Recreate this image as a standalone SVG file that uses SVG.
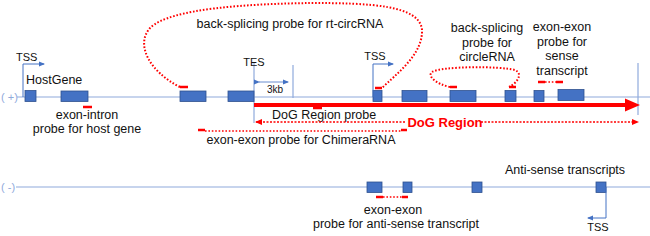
<svg xmlns="http://www.w3.org/2000/svg" width="650" height="236" viewBox="0 0 650 236">
<defs>
<style>
text{font-family:"Liberation Sans",Arial,sans-serif;font-size:12.5px;fill:#111}
.c{text-anchor:middle}
.strand{fill:#8FAADC;font-size:11px}
.axis{stroke:#8FAADC;stroke-width:1.2;fill:none}
.exon{fill:#4472C4;stroke:#2F528F;stroke-width:0.8}
.tss{stroke:#4472C4;stroke-width:1;fill:none}
.probe{stroke:#FF0000;stroke-width:2.5;fill:none}
.dot{stroke:#FF0000;stroke-width:2;fill:none;stroke-dasharray:1.6,1.8}
.dash{stroke:#FF0000;stroke-width:1.3;fill:none;stroke-dasharray:2,1.5}
.red{fill:#FF0000;font-weight:bold;font-size:13px}
</style>
<marker id="ab" markerWidth="6" markerHeight="6" refX="5" refY="3" orient="auto" markerUnits="userSpaceOnUse"><path d="M0,0.5 L6,3 L0,5.5 Z" fill="#4472C4"/></marker>
<marker id="ar" markerWidth="7" markerHeight="6" refX="6" refY="3" orient="auto" markerUnits="userSpaceOnUse"><path d="M0,0 L7,3 L0,6 Z" fill="#FF0000"/></marker>
</defs>

<g id="strands">
<text class="strand" x="1" y="101">( +)</text>
<line class="axis" x1="17" y1="97" x2="650" y2="97"/>
<text class="strand" x="1" y="191">( -)</text>
<line class="axis" x1="16" y1="187" x2="650" y2="187"/>
<line class="axis" x1="254" y1="63" x2="254" y2="123"/>
<line class="axis" x1="293" y1="65" x2="293" y2="98"/>
<line class="axis" x1="638" y1="63" x2="638" y2="115"/>
</g>

<g id="hostgene">
<rect class="exon" x="25" y="90.5" width="11" height="11"/>
<rect class="exon" x="61" y="91" width="27" height="10.5"/>
<rect class="exon" x="180" y="91" width="26" height="10.5"/>
<rect class="exon" x="228" y="91" width="26" height="10.5"/>
<text x="16" y="61" style="font-size:11px">TSS</text>
<text x="26" y="84">HostGene</text>
<text x="254" y="66" class="c" style="font-size:11px">TES</text>
<text x="275" y="93" class="c" style="font-size:10px">3kb</text>
</g>

<g id="sense-gene">
<rect class="exon" x="373" y="90.5" width="9" height="11"/>
<rect class="exon" x="402" y="90.5" width="25" height="11"/>
<rect class="exon" x="450" y="90.5" width="26" height="11"/>
<rect class="exon" x="505" y="90.5" width="11" height="11"/>
<rect class="exon" x="534" y="90.5" width="10" height="11"/>
<rect class="exon" x="558" y="89.5" width="26" height="11"/>
<text x="375" y="60" class="c" style="font-size:11px">TSS</text>
</g>

<g id="antisense-gene">
<rect class="exon" x="367" y="182" width="15" height="10.5"/>
<rect class="exon" x="403" y="182" width="9" height="10.5"/>
<rect class="exon" x="472" y="182" width="10" height="10.5"/>
<rect class="exon" x="596" y="182" width="10" height="10.5"/>
<text x="565" y="174" class="c">Anti-sense transcripts</text>
<text x="598" y="231" class="c" style="font-size:11px">TSS</text>
</g>

<g id="probes">
<line class="probe" x1="83" y1="107" x2="92" y2="107"/>
<text x="87" y="119" class="c">exon-intron</text>
<text x="87" y="133" class="c">probe for host gene</text>

<line class="probe" x1="180" y1="87" x2="188" y2="87"/>
<line class="probe" x1="375" y1="88" x2="382" y2="88"/>
<text x="290" y="28" class="c">back-splicing probe for rt-circRNA</text>

<line class="probe" x1="450" y1="87" x2="457" y2="87"/>
<line class="probe" x1="509" y1="87" x2="516" y2="87"/>
<text x="487" y="32" class="c">back-splicing</text>
<text x="487" y="47" class="c">probe for</text>
<text x="487" y="61" class="c">circleRNA</text>

<line class="probe" x1="538" y1="82" x2="545" y2="82"/>
<line class="probe" x1="556" y1="82" x2="563" y2="82"/>
<text x="562" y="31" class="c">exon-exon</text>
<text x="562" y="46" class="c">probe for</text>
<text x="562" y="60" class="c">sense</text>
<text x="562" y="75" class="c">transcript</text>

<line class="probe" x1="313" y1="108" x2="322" y2="108"/>
<text x="272" y="119">DoG Region probe</text>

<line class="probe" x1="198" y1="130" x2="205" y2="130"/>
<line class="probe" x1="401" y1="130" x2="407" y2="130"/>
<text x="301" y="144" class="c">exon-exon probe for ChimeraRNA</text>

<line class="probe" x1="376" y1="197" x2="383" y2="197"/>
<line class="probe" x1="402" y1="197" x2="408" y2="197"/>
<text x="393" y="214" class="c">exon-exon</text>
<text x="396" y="228" class="c">probe for anti-sense transcript</text>

<text x="445" y="127" class="c red">DoG Region</text>
</g>

<g id="connectors">
<path class="tss" d="M23,97 V64 H44" marker-end="url(#ab)"/>
<path class="tss" d="M373,97 V64 H393" marker-end="url(#ab)"/>
<path class="tss" d="M606,187 V218 H588" marker-end="url(#ab)"/>
<line class="tss" x1="259" y1="82" x2="288" y2="82" marker-start="url(#ab)" marker-end="url(#ab)" style="stroke-width:0.8"/>
<line x1="254" y1="105" x2="628" y2="105" stroke="#FF0000" stroke-width="4"/>
<polygon points="625,98.5 640,105 625,111.5" fill="#FF0000"/>
<path class="dot" d="M180,87 C150,72 135,45 150,28 C170,8 250,4 310,3 C370,3 420,5 422,30 C423,55 395,75 382,88"/>
<path class="dot" d="M450,87 C436,84 427,76 432,72 C442,66 500,66 515,70 C524,74 516,84 509,87"/>
<line class="dot" x1="545" y1="82" x2="556" y2="82" style="stroke-width:1.5"/>
<line class="dot" x1="205" y1="131" x2="401" y2="131" style="stroke-width:1.5"/>
<line class="dot" x1="383" y1="197" x2="402" y2="197" style="stroke-width:1.5"/>
<line class="dash" x1="405" y1="122" x2="256" y2="122" marker-end="url(#ar)"/>
<line class="dash" x1="481" y1="122" x2="638" y2="122" marker-end="url(#ar)"/>
</g>
</svg>
